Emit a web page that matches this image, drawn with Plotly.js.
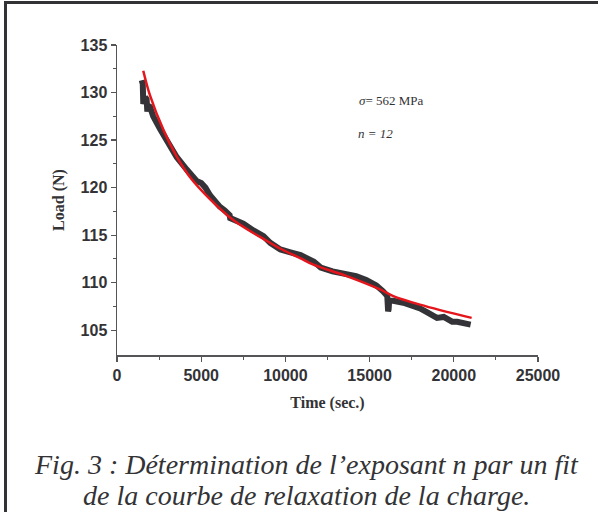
<!DOCTYPE html>
<html>
<head>
<meta charset="utf-8">
<script src="https://cdn.plot.ly/plotly-3.0.1.min.js"></script>
<style>
html,body{margin:0;padding:0;background:#fff;}
#wrap{position:relative;width:598px;height:512px;overflow:hidden;}
#chart{position:absolute;left:0;top:0;width:598px;height:512px;}
#fl{position:absolute;left:4px;top:1px;width:3px;height:511px;background:#333336;}
#ft{position:absolute;left:4px;top:1px;width:594px;height:3px;background:#333336;}
</style>
</head>
<body>
<div id="wrap"><div id="chart"></div><div id="fl"></div><div id="ft"></div></div>
<script>
const timeData = [1470, 1530, 1560, 1600, 1680, 1760, 1800, 1860, 1960, 2150, 2550, 2950, 3550, 4140, 4730, 5000, 5250, 5520, 5800, 6100, 6400, 6600, 6690, 6720, 7000, 7500, 8100, 8700, 9100, 9700, 10300, 10900, 11700, 12100, 12800, 13600, 14200, 14800, 15400, 15800, 16050, 16100, 16130, 16160, 16400, 17000, 17600, 18000, 18400, 18900, 19000, 19400, 19800, 19900, 20200, 20500, 21000];
const loadData = [131.3, 130.9, 128.8, 129.1, 129.5, 129.3, 128.0, 128.6, 128.5, 127.5, 126.2, 124.9, 123.2, 121.9, 120.7, 120.5, 120.0, 119.2, 118.6, 118.0, 117.6, 117.2, 117.1, 116.8, 116.6, 116.2, 115.5, 114.9, 114.2, 113.5, 113.2, 112.9, 112.2, 111.6, 111.2, 110.9, 110.7, 110.3, 109.7, 109.1, 108.6, 107.0, 107.2, 108.1, 108.1, 107.9, 107.6, 107.3, 106.9, 106.3, 106.3, 106.4, 106.1, 105.9, 105.9, 105.8, 105.6];
// Fitted curve
const timeFit = [1560, 1960, 2750, 3540, 4340, 5520, 6900, 8890, 9680, 10870, 11660, 13640, 15620, 16410, 17990, 21060];
const loadFit = [132.3, 129.7, 126.1, 123.3, 121.1, 118.8, 116.6, 114.4, 113.6, 112.6, 111.9, 110.7, 109.3, 108.6, 107.7, 106.3];
const xTicks = [0, 5000, 10000, 15000, 20000, 25000];
const yTicks = [105, 110, 115, 120, 125, 130, 135];
const sigmaLabel = '<i>σ</i>= 562 MPa';
const nLabel = '<i>n = 12</i>';
const captionLine1 = 'Fig. 3 : Détermination de l’exposant n par un fit';
const captionLine2 = 'de la courbe de relaxation de la charge.';

const axisCol = '#555558';
const txtCol = '#333336';

const traces = [
  {x: timeData, y: loadData, mode: 'lines', type: 'scatter',
   line: {color: '#343438', width: 6}, hoverinfo: 'skip'},
  {x: timeFit, y: loadFit, mode: 'lines', type: 'scatter',
   line: {color: '#e4161c', width: 2.5, shape: 'spline'}, hoverinfo: 'skip'}
];

const layout = {
  width: 598, height: 512,
  margin: {l: 117, r: 60, t: 45, b: 157},
  paper_bgcolor: '#ffffff', plot_bgcolor: '#ffffff',
  showlegend: false,
  xaxis: {
    range: [0, 25000], tickvals: xTicks, ticktext: xTicks.map(String),
    showgrid: false, zeroline: false, showline: true, linecolor: axisCol, linewidth: 1.5,
    ticks: 'outside', ticklen: 5, tickcolor: axisCol, tickwidth: 1.2,
    tickfont: {family: 'Liberation Sans, Arial, sans-serif', size: 16, color: txtCol, weight: 'bold'},
    minor: {tickvals: [2500, 7500, 12500, 17500, 22500], ticks: 'outside', ticklen: 3, tickcolor: axisCol, tickwidth: 1},
    title: {text: 'Time (sec.)', standoff: 14,
      font: {family: 'Liberation Serif, Times New Roman, serif', size: 16, color: txtCol, weight: 'bold'}}
  },
  yaxis: {
    range: [102.4, 135], tickvals: yTicks, ticktext: yTicks.map(String),
    showgrid: false, zeroline: false, showline: true, linecolor: axisCol, linewidth: 1.5,
    ticks: 'outside', ticklen: 5, tickcolor: axisCol, tickwidth: 1.2,
    tickfont: {family: 'Liberation Sans, Arial, sans-serif', size: 16, color: txtCol, weight: 'bold'},
    minor: {tickvals: [107.5, 112.5, 117.5, 122.5, 127.5, 132.5], ticks: 'outside', ticklen: 3, tickcolor: axisCol, tickwidth: 1},
    title: {text: 'Load (N)', standoff: 12,
      font: {family: 'Liberation Serif, Times New Roman, serif', size: 16, color: txtCol, weight: 'bold'}}
  },
  annotations: [
    {x: 14230, y: 129.15, xref: 'x', yref: 'y', text: sigmaLabel, showarrow: false, xanchor: 'left', yanchor: 'middle',
     font: {family: 'Liberation Serif, Times New Roman, serif', size: 13, color: txtCol}},
    {x: 14200, y: 125.66, xref: 'x', yref: 'y', text: nLabel, showarrow: false, xanchor: 'left', yanchor: 'middle',
     font: {family: 'Liberation Serif, Times New Roman, serif', size: 13, color: txtCol}},
    {x: 0.5, y: 0, xref: 'paper', yref: 'paper', text: '<i>' + captionLine1 + '</i>', showarrow: false,
     xanchor: 'center', yanchor: 'middle',
     font: {family: 'Liberation Serif, Times New Roman, serif', size: 28, color: txtCol}},
    {x: 0.5, y: 0, xref: 'paper', yref: 'paper', text: '<i>' + captionLine2 + '</i>', showarrow: false,
     xanchor: 'center', yanchor: 'middle',
     font: {family: 'Liberation Serif, Times New Roman, serif', size: 28, color: txtCol}}
  ]
};
// convert caption pixel rows to paper coordinates
const plotH = 512 - 45 - 157;
layout.annotations[2].y = (512 - 157 - 464) / plotH;
layout.annotations[3].y = (512 - 157 - 495) / plotH;
// caption centre x in paper coords (page x ~306)
layout.annotations[2].x = (306 - 117) / (598 - 117 - 60);
layout.annotations[3].x = (306 - 117) / (598 - 117 - 60);

Plotly.newPlot('chart', traces, layout, {staticPlot: true, displayModeBar: false});
</script>
</body>
</html>
